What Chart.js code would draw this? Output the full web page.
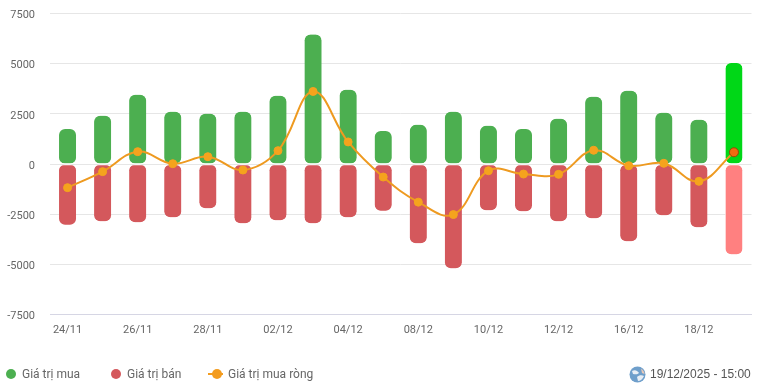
<!DOCTYPE html>
<html>
<head>
<meta charset="utf-8">
<script src="https://cdn.jsdelivr.net/npm/chart.js@4/dist/chart.umd.min.js"></script>
<style>
  html, body { margin: 0; padding: 0; background: #fff; }
  #wrap { position: relative; width: 757px; height: 386px; overflow: hidden; }
  canvas { position: absolute; left: 0; top: 0; }
  .item { position: absolute; top: 366px; height: 16px; line-height: 16px; font: 12px/16px Roboto, sans-serif; color: #666; white-space: nowrap; }
  .dot { position: absolute; width: 10px; height: 10px; border-radius: 50%; top: 369px; }
  #stamp { left: 650px; font-family: "Liberation Sans", Arial, sans-serif; color: #555; }
</style>
</head>
<body>
<div id="wrap">
  <canvas id="chart" width="757" height="386"></canvas>
  <span class="dot" style="left:6px;background:#4caf50"></span>
  <span class="item" style="left:22px">Giá trị mua</span>
  <span class="dot" style="left:111px;background:#d4585c"></span>
  <span class="item" style="left:127px">Giá trị bán</span>
  <svg style="position:absolute;left:207px;top:366px" width="18" height="16">
    <line x1="1" y1="8" x2="16" y2="8" stroke="#f39c1f" stroke-width="2"/>
    <circle cx="10" cy="8" r="5" fill="#f39c1f"/>
  </svg>
  <span class="item" style="left:228px">Giá trị mua ròng</span>
  <svg style="position:absolute;left:629px;top:366px" width="17" height="17" viewBox="0 0 17 17">
    <circle cx="8.5" cy="8.5" r="8" fill="#6f9fcb"/>
    <path d="M3 5 C6 3 9 5 10 7 C8 9 6 8 4 8 Z M8 11 C10 9 13 9 15 10 C14 13 11 15 9 15 Z" fill="#e8eef5"/>
    <path d="M12 2.5 C14 4 15.5 6 15.5 8 L13 7 Z" fill="#e9c9b8"/>
  </svg>
  <span class="item" id="stamp">19/12/2025 - 15:00</span>
</div>
<script>
// Dữ liệu
const categories = ['24/11', '25/11', '26/11', '27/11', '28/11', '01/12', '02/12', '03/12', '04/12', '05/12',
  '08/12', '09/12', '10/12', '11/12', '12/12', '15/12', '16/12', '17/12', '18/12', '19/12'];
const giaTriMua = [1750, 2400, 3450, 2600, 2500, 2600, 3400, 6450, 3700, 1650,
  1950, 2600, 1900, 1750, 2250, 3350, 3650, 2550, 2200, 5030];
const giaTriBan = [-3030, -2850, -2900, -2650, -2200, -2950, -2800, -2950, -2650, -2330,
  -3950, -5200, -2300, -2350, -2850, -2700, -3850, -2550, -3150, -4500];
const giaTriRong = [-1180, -380, 615, 15, 365, -300, 665, 3615, 1100, -650,
  -1900, -2520, -335, -500, -515, 685, -85, 35, -865, 585];
const yTicks = [-7500, -5000, -2500, 0, 2500, 5000, 7500];

const lastIndex = categories.length - 1;

// Ngày cuối cùng có màu riêng
function colorFor(normal, last) {
  return ctx => (ctx.dataIndex === lastIndex ? last : normal);
}

// Viền trắng tạo khe nhỏ ở mức 0, cột cuối hẹp hơn một chút
function borderFor(side, gap) {
  return ctx => {
    const inset = ctx.dataIndex === lastIndex ? 0.5 : 0;
    return { top: 0, bottom: 0, left: inset, right: inset, [side]: gap };
  };
}

new Chart(document.getElementById('chart'), {
  data: {
    labels: categories,
    datasets: [
      {
        type: 'line',
        label: 'Giá trị mua ròng',
        data: giaTriRong,
        order: 0,
        borderColor: '#ee9a20',
        borderWidth: 2,
        tension: 0.4,
        pointRadius: colorFor(4, 4.5),
        pointBackgroundColor: colorFor('#f5a31d', '#f06a10'),
        pointBorderColor: colorFor('#f5a31d', '#8f4d05'),
        pointBorderWidth: 1
      },
      {
        type: 'bar',
        label: 'Giá trị mua',
        data: giaTriMua,
        order: 1,
        barThickness: 17,
        grouped: false,
        borderRadius: 6,
        borderSkipped: false,
        backgroundColor: colorFor('#4caf50', '#00d717'),
        borderColor: '#fff',
        borderWidth: borderFor('bottom', 0.5)
      },
      {
        type: 'bar',
        label: 'Giá trị bán',
        data: giaTriBan,
        order: 2,
        barThickness: 17,
        grouped: false,
        borderRadius: 6,
        borderSkipped: false,
        backgroundColor: colorFor('#d4585c', '#ff8080'),
        borderColor: '#fff',
        borderWidth: borderFor('top', 1)
      }
    ]
  },
  options: {
    responsive: false,
    animation: false,
    layout: { padding: { top: 13.5, right: 5.5, bottom: 0, left: 0 } },
    plugins: { legend: { display: false }, tooltip: { enabled: false } },
    scales: {
      x: {
        grid: { display: false, drawTicks: false },
        border: { color: '#d6d6e4' },
        afterFit: scale => { scale.height = 71.5; },
        ticks: {
          autoSkip: false,
          maxRotation: 0,
          padding: 9,
          color: '#666',
          font: { family: 'Roboto', size: 11 },
          callback: function(value, index) {
            return index % 2 === 0 ? this.getLabelForValue(value) : '';
          }
        }
      },
      y: {
        min: -7500,
        max: 7500,
        afterFit: scale => { scale.width = 50; scale.paddingTop = 0; scale.paddingBottom = 0; },
        afterBuildTicks: scale => { scale.ticks = yTicks.map(value => ({ value })); },
        grid: { color: '#e6e6e6', drawTicks: false },
        border: { display: false },
        ticks: {
          padding: 15,
          labelOffset: 2,
          color: '#666',
          font: { family: 'Roboto', size: 11 },
          callback: value => String(value)
        }
      }
    }
  }
});
</script>
</body>
</html>
